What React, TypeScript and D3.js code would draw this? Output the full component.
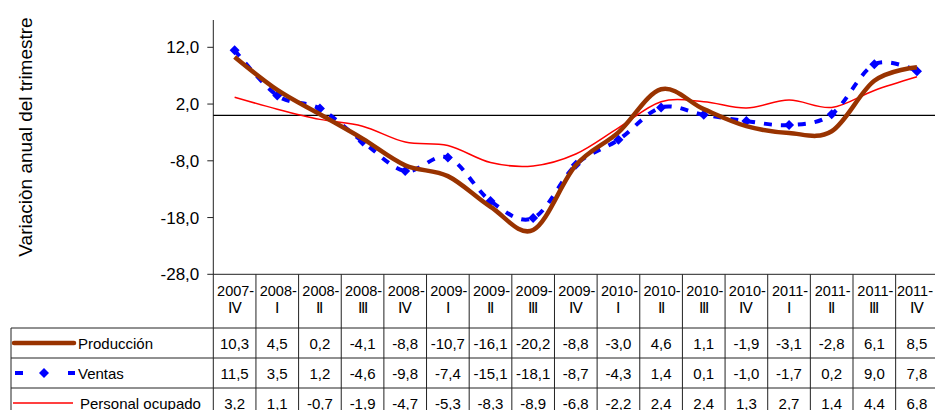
import React from "react";
import * as d3 from "d3";

const years = ["2007-", "2008-", "2008-", "2008-", "2008-", "2009-", "2009-", "2009-", "2009-", "2010-", "2010-", "2010-", "2010-", "2011-", "2011-", "2011-", "2011-"];
const quarters = ["Ⅳ", "Ⅰ", "Ⅱ", "Ⅲ", "Ⅳ", "Ⅰ", "Ⅱ", "Ⅲ", "Ⅳ", "Ⅰ", "Ⅱ", "Ⅲ", "Ⅳ", "Ⅰ", "Ⅱ", "Ⅲ", "Ⅳ"];
const produccion = [10.3, 4.5, 0.2, -4.1, -8.8, -10.7, -16.1, -20.2, -8.8, -3.0, 4.6, 1.1, -1.9, -3.1, -2.8, 6.1, 8.5];
const ventas = [11.5, 3.5, 1.2, -4.6, -9.8, -7.4, -15.1, -18.1, -8.7, -4.3, 1.4, 0.1, -1.0, -1.7, 0.2, 9.0, 7.8];
const personal = [3.2, 1.1, -0.7, -1.9, -4.7, -5.3, -8.3, -8.9, -6.8, -2.2, 2.4, 2.4, 1.3, 2.7, 1.4, 4.4, 6.8];
const yTicks = [12, 2, -8, -18, -28];
const seriesNames = ["Producción", "Ventas", "Personal ocupado"];

const FONT = "'Liberation Sans', Arial, Helvetica, sans-serif";

export default function App() {
  const W = 935, H = 410;
  const left = 213.3, right = 938.3;
  const top = 20, bottom = 274.3;
  const idx = years.map((_, i) => i);
  const x = d3.scaleBand<number>().domain(idx).range([left, right]);
  const y = d3.scaleLinear().domain([-28, 12]).range([bottom, 47.3]);
  const cx = (i: number) => (x(i) as number) + x.bandwidth() / 2;
  const fmt = (v: number) => v.toFixed(1).replace(".", ",");
  const line = d3
    .line<number>()
    .x((_, i) => cx(i))
    .y((d) => y(d))
    .curve(d3.curveCardinal.tension(0));

  const tableLeft = 11;
  const headerBottom = 328;
  const rowTops = [328, 358, 388];
  const gridColor = "#222";
  const fs = 15;

  const diamond = (px: number, py: number, r: number) =>
    `M${px},${py - r}L${px + r},${py}L${px},${py + r}L${px - r},${py}Z`;

  return (
    <svg
      width={W}
      height={H}
      style={{ position: "absolute", left: 0, top: 0, background: "#fff" }}
      fontFamily={FONT}
    >
      <rect x={0} y={0} width={W} height={H} fill="#fff" />
      {/* Y axis title */}
      <text
        transform={`translate(32,137) rotate(-90)`}
        textAnchor="middle"
        fontSize={19}
        fill="#000"
      >
        Variaciòn anual del trimestre
      </text>
      {/* Y axis */}
      <line x1={left} x2={left} y1={top} y2={H} stroke={gridColor} strokeWidth={1} />
      {yTicks.map((t) => (
        <g key={t}>
          <line x1={left - 6} x2={left} y1={y(t)} y2={y(t)} stroke={gridColor} />
          <text x={left - 14} y={y(t) + 6} textAnchor="end" fontSize={17} fill="#000">
            {fmt(t)}
          </text>
        </g>
      ))}
      {/* zero line */}
      <line x1={left} x2={W} y1={y(0)} y2={y(0)} stroke="#000" strokeWidth={1.2} />
      {/* x axis / table top */}
      <line x1={left} x2={W} y1={bottom} y2={bottom} stroke={gridColor} />
      {/* Table horizontal lines */}
      {rowTops.map((ry) => (
        <line key={ry} x1={tableLeft} x2={W} y1={ry} y2={ry} stroke={gridColor} />
      ))}
      <line x1={tableLeft} x2={tableLeft} y1={headerBottom} y2={H} stroke={gridColor} />
      {idx.map((i) => (
        <line
          key={"v" + i}
          x1={(x(i) as number) + x.bandwidth()}
          x2={(x(i) as number) + x.bandwidth()}
          y1={bottom}
          y2={H}
          stroke={gridColor}
        />
      ))}
      {/* header labels */}
      {idx.map((i) => (
        <g key={"h" + i} fontSize={14.5} fill="#000" textAnchor="middle">
          <text x={Math.min(cx(i) + 1, W - 20)} y={296}>{years[i]}</text>
          <text x={cx(i)} y={313}>{quarters[i]}</text>
        </g>
      ))}
      {/* values */}
      {[produccion, ventas, personal].map((arr, r) => (
        <g key={"r" + r} fontSize={fs} fill="#000" textAnchor="middle">
          {arr.map((v, i) => (
            <text key={i} x={cx(i)} y={rowTops[r] + 20.5}>
              {fmt(v)}
            </text>
          ))}
        </g>
      ))}
      {/* legend */}
      <line x1={14} x2={74} y1={343} y2={343} stroke="#993300" strokeWidth={4.5} strokeLinecap="round" />
      <text x={78} y={348.5} fontSize={fs} fill="#000">{seriesNames[0]}</text>
      <line x1={15} x2={23} y1={373} y2={373} stroke="#0000FF" strokeWidth={4} />
      <line x1={68} x2={75} y1={373} y2={373} stroke="#0000FF" strokeWidth={4} />
      <path d={diamond(44, 373, 5)} fill="#0000FF" />
      <text x={78} y={378.5} fontSize={fs} fill="#000">{seriesNames[1]}</text>
      <line x1={13} x2={73} y1={403} y2={403} stroke="#FF0000" strokeWidth={1.5} />
      <text x={80} y={408.5} fontSize={fs} fill="#000">{seriesNames[2]}</text>

      {/* Series */}
      <path d={line(personal) || ""} fill="none" stroke="#FF0000" strokeWidth={1.5} />
      <path
        d={line(ventas) || ""}
        fill="none"
        stroke="#0000FF"
        strokeWidth={4}
        strokeDasharray="8,9"
      />
      {ventas.map((v, i) => (
        <path key={"m" + i} d={diamond(cx(i), y(v), 5)} fill="#0000FF" />
      ))}
      <path d={line(produccion) || ""} fill="none" stroke="#993300" strokeWidth={4.5} />
    </svg>
  );
}
